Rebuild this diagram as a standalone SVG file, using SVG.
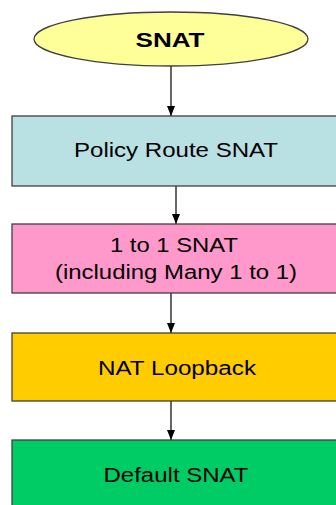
<svg xmlns="http://www.w3.org/2000/svg" width="336" height="505" viewBox="0 0 336 505">
<defs>
<marker id="ah" viewBox="0 0 10 8" refX="10" refY="4" markerWidth="10" markerHeight="8" markerUnits="userSpaceOnUse" orient="auto">
<path d="M0,0 L10,4 L0,8 Z" fill="#000"/>
</marker>
</defs>
<style>
.box{stroke:#404040;stroke-width:1.3}
.t{font-family:"Liberation Sans",Arial,sans-serif;font-size:20px;fill:#000;text-anchor:middle}
.b{font-weight:bold;font-size:21px}
.c{stroke:#000;stroke-width:1.2;fill:none}
</style>
<rect width="336" height="505" fill="#fff"/>
<g id="connectors">
<line class="c" x1="171" y1="66" x2="171" y2="116" marker-end="url(#ah)"/>
<line class="c" x1="176" y1="186" x2="176" y2="224" marker-end="url(#ah)"/>
<line class="c" x1="171" y1="293" x2="171" y2="333" marker-end="url(#ah)"/>
<line class="c" x1="171" y1="401" x2="171" y2="440" marker-end="url(#ah)"/>
</g>
<g id="snat">
<ellipse class="box" cx="171" cy="39" rx="137" ry="27" fill="#FFFF99"/>
<text class="t b" x="170" y="47" textLength="69" lengthAdjust="spacingAndGlyphs">SNAT</text>
</g>
<g id="policy">
<rect class="box" x="12" y="116" width="330" height="70" fill="#B9E0E3"/>
<text class="t" x="176" y="157" textLength="204" lengthAdjust="spacingAndGlyphs">Policy Route SNAT</text>
</g>
<g id="onetoone">
<rect class="box" x="12" y="224" width="330" height="69" fill="#FF99CC"/>
<text class="t" x="174" y="252" textLength="128" lengthAdjust="spacingAndGlyphs">1 to 1 SNAT</text>
<text class="t" x="176" y="279" textLength="242" lengthAdjust="spacingAndGlyphs">(including Many 1 to 1)</text>
</g>
<g id="loopback">
<rect class="box" x="12" y="333" width="330" height="68" fill="#FFCC00"/>
<text class="t" x="177" y="375" textLength="158" lengthAdjust="spacingAndGlyphs">NAT Loopback</text>
</g>
<g id="default">
<rect class="box" x="12" y="440" width="330" height="70" fill="#00CC66"/>
<text class="t" x="176" y="482" textLength="145" lengthAdjust="spacingAndGlyphs">Default SNAT</text>
</g>
</svg>
